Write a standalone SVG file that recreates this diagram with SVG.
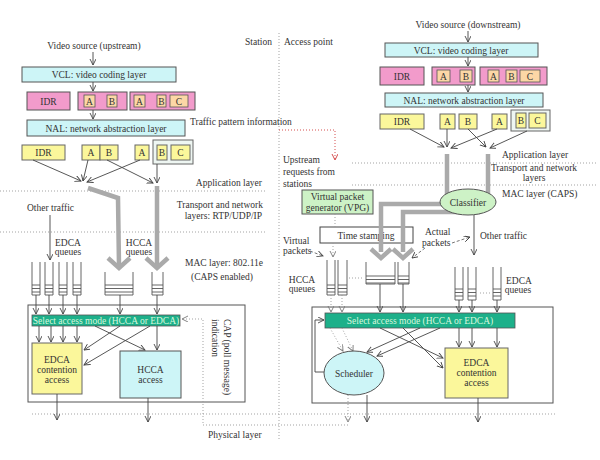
<svg xmlns="http://www.w3.org/2000/svg" width="600" height="460" viewBox="0 0 600 460">
<defs>
<style>
.t{font-family:"Liberation Serif","DejaVu Serif",serif;font-size:9.5px;fill:#333}
.m{text-anchor:middle}
.e{text-anchor:end}
.g{font-family:"Liberation Serif","DejaVu Serif",serif;font-size:9.5px;fill:#d8f7dc;text-anchor:middle}
.cy{fill:#cdf5f7;stroke:#555;stroke-width:1}
.pk{fill:#f29bcb;stroke:#555;stroke-width:1}
.pc{fill:#fcd7a6;stroke:#555;stroke-width:0.8}
.yl{fill:#fbf79b;stroke:#666;stroke-width:1}
.gb{fill:#eef6f2;stroke:#666;stroke-width:1}
.gr{fill:#1db08a;stroke:#555;stroke-width:0.8}
.lg{fill:#cdf2c6;stroke:#555;stroke-width:1}
.ln{fill:none;stroke:#444;stroke-width:0.9}
.ar{fill:none;stroke:#444;stroke-width:0.9;marker-end:url(#a)}
.da{fill:none;stroke:#666;stroke-width:0.9;stroke-dasharray:3 2;marker-end:url(#a)}
.dt{fill:none;stroke:#999;stroke-width:0.9;stroke-dasharray:1 2}
.dtr{fill:none;stroke:#d03a3a;stroke-width:0.9;stroke-dasharray:1 2}
.th{fill:none;stroke:#aaa;stroke-width:4.5}
.q{fill:none;stroke:#555;stroke-width:0.9}
.ob{fill:none;stroke:#555;stroke-width:1}
</style>
<marker id="a" markerWidth="8" markerHeight="8" refX="6" refY="3" orient="auto" markerUnits="userSpaceOnUse"><path d="M0,0 L6,3 L0,6" fill="none" stroke="#444" stroke-width="0.9"/></marker>
<marker id="ad" markerWidth="8" markerHeight="8" refX="6" refY="3" orient="auto" markerUnits="userSpaceOnUse"><path d="M0,0 L6,3 L0,6" fill="none" stroke="#777" stroke-width="0.9"/></marker>
<marker id="arr" markerWidth="8" markerHeight="8" refX="6" refY="3" orient="auto" markerUnits="userSpaceOnUse"><path d="M0,0 L6,3 L0,6" fill="none" stroke="#d03a3a" stroke-width="0.9"/></marker>
</defs>
<rect width="600" height="460" fill="#fff"/>

<!-- layer lines and separators -->
<g id="layers">
<path class="dt" d="M279,33 V440"/>
<path class="dt" d="M0,191 H265 M0,232 H265 M352,163 H596 M352,185 H596 M32,414 H557"/>
<text class="t e" x="272" y="45">Station</text>
<text class="t" x="284" y="45">Access point</text>
<text class="t e" x="262" y="186">Application layer</text>
<text class="t e" x="263" y="208">Transport and network</text>
<text class="t e" x="262" y="219">layers: RTP/UDP/IP</text>
<text class="t m" x="224" y="266">MAC layer: 802.11e</text>
<text class="t m" x="222" y="280">(CAPS enabled)</text>
<text class="t" x="502" y="158">Application layer</text>
<text class="t m" x="534" y="171">Transport and network</text>
<text class="t m" x="534" y="181">layers</text>
<text class="t" x="502" y="197">MAC layer (CAPS)</text>
<text class="t" x="208" y="438">Physical layer</text>
<text class="t" x="190" y="125">Traffic pattern information</text>
<text class="t" x="283" y="163">Upstream</text>
<text class="t" x="283" y="175">requests from</text>
<text class="t" x="283" y="187">stations</text>
</g>

<!-- ===== Station (left) ===== -->
<g id="src-up"><text class="t m" x="94" y="49">Video source (upstream)</text></g>
<g id="vcl-up"><rect class="cy" x="22" y="67" width="154" height="15"/><text class="t m" x="99" y="78">VCL: video coding layer</text></g>
<g id="pink-up">
<rect class="pk" x="27" y="92" width="43" height="18"/><text class="t m" x="48.5" y="104.5">IDR</text>
<rect class="pk" x="78" y="92" width="49" height="18"/>
<rect class="pc" x="84" y="95" width="11" height="12"/><text class="t m" x="89.5" y="104.5">A</text>
<rect class="pc" x="107" y="95" width="10" height="12"/><text class="t m" x="112" y="104.5">B</text>
<rect class="pk" x="130" y="92" width="65" height="18"/>
<rect class="pc" x="134" y="95" width="11" height="12"/><text class="t m" x="139.5" y="104.5">A</text>
<rect class="pc" x="157" y="95" width="9" height="12"/><text class="t m" x="161.5" y="104.5">B</text>
<rect class="pc" x="170" y="95" width="18" height="12"/><text class="t m" x="179" y="104.5">C</text>
</g>
<g id="nal-up"><rect class="cy" x="27" y="120" width="158" height="16"/><text class="t m" x="106" y="131.5">NAL: network abstraction layer</text></g>
<g id="yellow-up">
<rect class="yl" x="22" y="145" width="43" height="15"/><text class="t m" x="43.5" y="156">IDR</text>
<rect class="yl" x="82" y="145" width="18" height="15"/><text class="t m" x="91" y="156">A</text>
<rect class="yl" x="100" y="145" width="18" height="15"/><text class="t m" x="109" y="156">B</text>
<rect class="yl" x="135" y="145" width="14" height="15"/><text class="t m" x="142" y="156">A</text>
<rect class="gb" x="153" y="140" width="40" height="24"/>
<rect class="yl" x="157" y="145" width="10" height="15"/><text class="t m" x="162" y="156">B</text>
<rect class="yl" x="171" y="145" width="19" height="15"/><text class="t m" x="180.5" y="156">C</text>
</g>
<g id="other-up"><text class="t" x="27" y="211">Other traffic</text></g>
<g id="edca-q-up">
<path class="q" d="M32,262V295H40V262M32,285H40M32,288.5H40M32,292H40"/>
<path class="q" d="M45,262V295H53V262M45,285H53M45,288.5H53M45,292H53"/>
<path class="q" d="M59,262V295H67V262M59,285H67M59,288.5H67M59,292H67"/>
<path class="q" d="M73,262V295H81V262M73,285H81M73,288.5H81M73,292H81"/>
<text class="t m" x="68" y="246">EDCA</text><text class="t m" x="68" y="255">queues</text>
</g>
<g id="hcca-q-up">
<path class="q" d="M105,272V295H133V272M105,285H133M105,288.5H133M105,292H133"/>
<path class="q" d="M152,272V295H163V272M152,285H163M152,288.5H163M152,292H163"/>
<text class="t m" x="139" y="246">HCCA</text><text class="t m" x="139" y="255">queues</text>
</g>
<g id="mac-up"><rect class="ob" x="28" y="305" width="217" height="97"/></g>
<g id="sel-up"><rect class="gr" x="32" y="315" width="148" height="11"/><text class="g" x="106" y="324">Select access mode (HCCA or EDCA)</text></g>
<g id="edca-up"><rect class="yl" x="32" y="343" width="50" height="51"/><text class="t m" x="57" y="363">EDCA</text><text class="t m" x="57" y="373">contention</text><text class="t m" x="57" y="383">access</text></g>
<g id="hcca-up"><rect class="cy" x="120" y="351" width="61" height="47"/><text class="t m" x="150.5" y="373">HCCA</text><text class="t m" x="150.5" y="383">access</text></g>
<g id="cap-label"><text class="t" transform="translate(224,319) rotate(90)">CAP (poll message)</text><text class="t" transform="translate(212,319) rotate(90)">indication</text></g>

<!-- ===== Access point (right) ===== -->
<g id="src-dn"><text class="t m" x="468" y="28">Video source (downstream)</text></g>
<g id="vcl-dn"><rect class="cy" x="385" y="43" width="153" height="14"/><text class="t m" x="461" y="53.5">VCL: video coding layer</text></g>
<g id="pink-dn">
<rect class="pk" x="380" y="67" width="44" height="18"/><text class="t m" x="402" y="79.5">IDR</text>
<rect class="pk" x="432" y="67" width="43" height="18"/>
<rect class="pc" x="437" y="70" width="13" height="12"/><text class="t m" x="443.5" y="79.5">A</text>
<rect class="pc" x="460" y="70" width="12" height="12"/><text class="t m" x="466" y="79.5">B</text>
<rect class="pk" x="480" y="67" width="67" height="18"/>
<rect class="pc" x="488" y="70" width="11" height="12"/><text class="t m" x="493.5" y="79.5">A</text>
<rect class="pc" x="506" y="70" width="11" height="12"/><text class="t m" x="511.5" y="79.5">B</text>
<rect class="pc" x="520" y="70" width="20" height="12"/><text class="t m" x="530" y="79.5">C</text>
</g>
<g id="nal-dn"><rect class="cy" x="385" y="93" width="158" height="14"/><text class="t m" x="464" y="103.5">NAL: network abstraction layer</text></g>
<g id="yellow-dn">
<rect class="yl" x="380" y="114" width="44" height="15"/><text class="t m" x="402" y="125">IDR</text>
<rect class="yl" x="440" y="114" width="15" height="15"/><text class="t m" x="447.5" y="125">A</text>
<rect class="yl" x="459" y="114" width="18" height="15"/><text class="t m" x="468" y="125">B</text>
<rect class="yl" x="492" y="114" width="15" height="15"/><text class="t m" x="499.5" y="125">A</text>
<rect class="gb" x="511" y="110" width="39" height="21"/>
<rect class="yl" x="516" y="113" width="10" height="15"/><text class="t m" x="521" y="124">B</text>
<rect class="yl" x="529" y="113" width="17" height="15"/><text class="t m" x="537.5" y="124">C</text>
</g>
<g id="vpg"><rect class="lg" x="302" y="190" width="71" height="24"/><text class="t m" x="337.5" y="200">Virtual packet</text><text class="t m" x="337.5" y="210.5">generator (VPG)</text></g>
<g id="timestamp"><rect fill="#fff" stroke="#444" stroke-width="1" x="320" y="227" width="93" height="16"/><text class="t m" x="366" y="238.5">Time stamping</text></g>
<g id="vq-dn">
<path class="q" d="M327,260V295H335V260M327,285H335M327,288.5H335M327,292H335"/>
<path class="q" d="M338,260V295H347V260M338,285H347M338,288.5H347M338,292H347"/>
<text class="t" x="283" y="244">Virtual</text><text class="t" x="283" y="254">packets</text>
<text class="t m" x="302" y="283">HCCA</text><text class="t m" x="302" y="292">queues</text>
<path class="dt" d="M349,278H364"/>
</g>
<g id="hq-dn">
<path class="q" d="M366,262V284H395V262M366,276H395M366,279.5H395M366,283H395"/>
<path class="q" d="M398,262V284H409V262M398,276H409M398,279.5H409M398,283H409"/>
<text class="t" x="425" y="235">Actual</text><text class="t" x="422" y="246">packets</text>
</g>
<g id="other-dn"><text class="t" x="480" y="239">Other traffic</text></g>
<g id="eq-dn">
<path class="q" d="M455,267V300H463V267M455,289H463M455,292.5H463M455,296H463"/>
<path class="q" d="M468,267V300H476V267M468,289H476M468,292.5H476M468,296H476"/>
<path class="q" d="M493,267V300H501V267M493,289H501M493,292.5H501M493,296H501"/>
<path class="dt" d="M480,293H490"/>
<text class="t m" x="519" y="284">EDCA</text><text class="t m" x="518" y="293">queues</text>
</g>
<g id="mac-dn"><rect class="ob" x="312" y="307" width="241" height="96"/></g>
<g id="sel-dn"><rect class="gr" x="325" y="313" width="190" height="15"/><text class="g" x="420" y="324">Select access mode (HCCA or EDCA)</text></g>
<g id="edca-dn"><rect class="yl" x="445" y="348" width="63" height="50"/><text class="t m" x="476.5" y="366">EDCA</text><text class="t m" x="476.5" y="376">contention</text><text class="t m" x="476.5" y="386">access</text></g>

<!-- ===== connectors ===== -->
<g id="connectors">
<path class="ar" d="M93,52V65"/>
<path class="ar" d="M93,82V91"/>
<path class="ar" d="M93,110V119"/>
<path class="ar" d="M33,160L81,181"/>
<path class="ar" d="M88,160L83,181"/>
<path class="ar" d="M140,160L87,182"/>
<path class="ar" d="M107,160L153,183"/>
<path class="ar" d="M157,164V183"/>
<path class="th" d="M88,188L118,198L119,266"/>
<path class="th" d="M157,186V266"/>
<path class="th" d="M108,258L119,268L130,258"/>
<path class="th" d="M146,258L157,268L168,258"/>
<path class="ar" d="M50,215V260"/>
<path class="ar" d="M36,295V314"/><path class="ar" d="M49,295V314"/><path class="ar" d="M63,295V314"/><path class="ar" d="M77,295V314"/>
<path class="ar" d="M120,295V314"/><path class="ar" d="M157,295V314"/>
<path class="ar" d="M39,326V342"/><path class="ar" d="M51,326V342"/><path class="ar" d="M63,326V342"/><path class="ar" d="M77,326V342"/>
<path class="ar" d="M120,326L84,350"/><path class="ar" d="M150,326L84,365"/>
<path class="ar" d="M95,326L145,350"/><path class="ar" d="M157,326V350"/>
<path class="ar" d="M57,394V420"/><path class="ar" d="M148,398V422"/>

<path class="ar" d="M468,31V42"/>
<path class="ar" d="M468,57V66"/>
<path class="ar" d="M468,85V92"/>
<path class="ar" d="M410,129L444,147"/>
<path class="ar" d="M447,129V147"/>
<path class="ar" d="M497,129L451,148"/>
<path class="ar" d="M468,129L486,147"/>
<path class="ar" d="M527,131L490,148"/>
<path class="th" d="M447,154V204H381V252"/>
<path class="th" d="M488,154V203L479,212H403V252"/>
<path class="th" d="M371,249L381,258L391,249"/>
<path class="th" d="M393,249L403,258L413,249"/>
<path class="dtr" d="M279,130H335V160" marker-end="url(#arr)"/>
<path class="dt" d="M335,214V227"/>
<path class="dt" d="M333,243V257" marker-end="url(#ad)"/>
<path class="da" d="M310,251L323,256"/>
<path class="da" d="M425,248L412,258"/>
<path class="da" d="M452,243L470,237"/>
<path class="ar" d="M474,215V255"/>
<path class="ar" d="M459,300V312"/><path class="ar" d="M472,300V312"/><path class="ar" d="M497,300V312"/>
<path class="ar" d="M459,328V347"/><path class="ar" d="M472,328V347"/><path class="ar" d="M497,328V347"/>
<path class="ar" d="M380,284V312"/><path class="ar" d="M403,284V312"/>
<path class="dt" d="M331,295V312" marker-end="url(#ad)"/><path class="dt" d="M342,295V312" marker-end="url(#ad)"/>
<path class="dt" d="M330,328L343,351" marker-end="url(#ad)"/><path class="dt" d="M342,328L353,351" marker-end="url(#ad)"/>
<path class="ar" d="M380,328L443,358"/><path class="ar" d="M403,328L443,368"/>
<path class="ar" d="M440,328L377,356"/><path class="ar" d="M420,328L367,352"/>
<path class="ar" d="M325,372H315V320H324"/>
<path class="ar" d="M367,395V422"/>
<path class="dt" d="M348,395V422" marker-end="url(#ad)"/>
<path class="dt" d="M348,425H203V319H182" marker-end="url(#ad)"/>
<path class="ar" d="M478,398V422"/>
</g>
<g id="classifier"><ellipse class="lg" cx="468" cy="202" rx="28" ry="13"/><text class="t m" x="468" y="205.5">Classifier</text></g>
<g id="scheduler"><ellipse class="cy" cx="354" cy="373" rx="30" ry="22"/><text class="t m" x="354" y="376.5">Scheduler</text></g>
</svg>
